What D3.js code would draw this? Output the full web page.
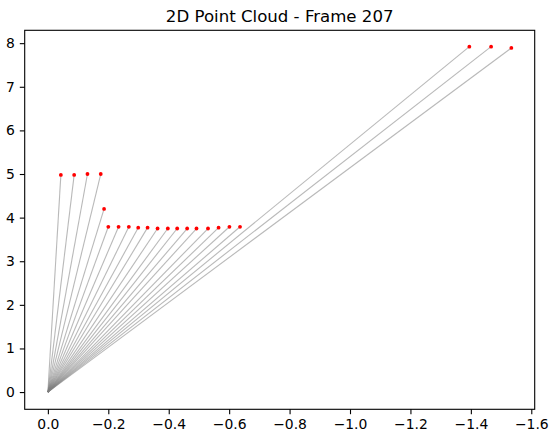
<!DOCTYPE html>
<html>
<head>
<meta charset="utf-8">
<script src="https://cdn.jsdelivr.net/npm/d3@7"></script>
<style>
  html, body { margin: 0; padding: 0; background: #fff; }
  text { font-family: "DejaVu Sans", sans-serif; fill: #000; }
</style>
</head>
<body>
<svg id="chart" width="550" height="437"></svg>
<script>
// Data (x, y) of point cloud, frame 207
const xValues = [-0.043, -0.087, -0.131, -0.175, -0.186,
  -0.200, -0.234, -0.268, -0.299, -0.330, -0.363, -0.397, -0.428, -0.461, -0.492, -0.530, -0.565, -0.601, -0.636,
  -1.395, -1.467, -1.534];
const yValues = [4.98, 4.98, 5.00, 5.00, 4.20,
  3.79, 3.79, 3.79, 3.77, 3.77, 3.75, 3.75, 3.75, 3.75, 3.75, 3.75, 3.77, 3.79, 3.79,
  7.92, 7.92, 7.89];
const originPoint = [0, 0];
const xTicks = [0.0, -0.2, -0.4, -0.6, -0.8, -1.0, -1.2, -1.4, -1.6];
const yTicks = [0, 1, 2, 3, 4, 5, 6, 7, 8];
const titleText = "2D Point Cloud - Frame 207";

const points = xValues.map((x, i) => ({ x, y: yValues[i] }));

const svg = d3.select("#chart");
const plotLeft = 24.7, plotRight = 534.7, plotTop = 30.3, plotBottom = 409.3;

const xScale = d3.scaleLinear().domain([0.0767, -1.6113]).range([plotLeft, plotRight]);
const yScale = d3.scaleLinear().domain([-0.395, 8.295]).range([plotBottom, plotTop]);

const fmtX = d => (d === 0 ? "0.0" : d3.format(".1f")(d).replace("-", "\u2212"));

// lines from origin
svg.append("g").selectAll("line").data(points).join("line")
  .attr("x1", xScale(originPoint[0])).attr("y1", yScale(originPoint[1]))
  .attr("x2", d => xScale(d.x)).attr("y2", d => yScale(d.y))
  .attr("stroke", "#808080").attr("stroke-opacity", 0.55).attr("stroke-width", 1.1);

// points
svg.append("g").selectAll("circle").data(points).join("circle")
  .attr("cx", d => xScale(d.x)).attr("cy", d => yScale(d.y))
  .attr("r", 1.9).attr("fill", "#ff0000");

// axes
const xAxis = d3.axisBottom(xScale).tickValues(xTicks).tickFormat(fmtX).tickSize(4.9).tickPadding(4.9);
const yAxis = d3.axisLeft(yScale).tickValues(yTicks).tickFormat(d3.format("d")).tickSize(4.9).tickPadding(4.9);

const gx = svg.append("g").attr("transform", `translate(0,${plotBottom})`).call(xAxis);
const gy = svg.append("g").attr("transform", `translate(${plotLeft},0)`).call(yAxis);
[gx, gy].forEach(g => {
  g.select(".domain").remove();
  g.selectAll(".tick line").attr("stroke", "#000").attr("stroke-width", 1.1);
  g.selectAll(".tick text").attr("font-size", "13.9px").attr("font-family", "DejaVu Sans, sans-serif").attr("fill", "#000");
});

// frame
svg.append("rect").attr("x", plotLeft).attr("y", plotTop)
  .attr("width", plotRight - plotLeft).attr("height", plotBottom - plotTop)
  .attr("fill", "none").attr("stroke", "#000").attr("stroke-width", 1.1);

// title
svg.append("text").attr("x", (plotLeft + plotRight) / 2).attr("y", 21.5)
  .attr("text-anchor", "middle").attr("font-size", "16.6px").text(titleText);
</script>
</body>
</html>
